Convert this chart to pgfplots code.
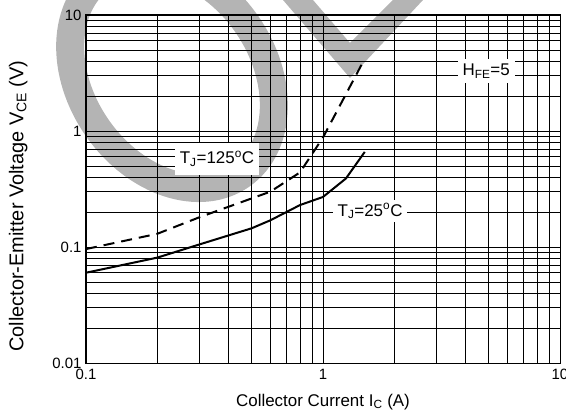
\documentclass[border=0pt]{standalone}
\usepackage{pgfplots}
\pgfplotsset{compat=1.18}
\usepackage{fontspec}
\setmainfont{Liberation Sans}
\definecolor{wm}{RGB}{180,180,180}
\begin{document}
\begin{tikzpicture}
\begin{scope}
\clip (-86bp,-51bp) rectangle (480bp,363bp);
\draw[wm, line width=28bp, rotate around={-55:(86bp,287bp)}] (86bp,287bp) ellipse (121bp and 91bp);
\fill[wm] (197bp,363bp) -- (264bp,285bp) -- (337bp,363bp) -- (307bp,363bp) -- (264bp,320bp) -- (227bp,363bp) -- cycle;
\end{scope}
\begin{axis}[
  at={(0,0)}, anchor=south west,
  scale only axis, width=474bp, height=348bp,
  xmode=log, ymode=log,
  xmin=0.1, xmax=10, ymin=0.01, ymax=10,
  xtick={0.1,1,10}, ytick={0.01,0.1,1,10},
  minor xtick={0.2,0.3,0.4,0.5,0.6,0.7,0.8,0.9,2,3,4,5,6,7,8,9},
  minor ytick={0.02,0.03,0.04,0.05,0.06,0.07,0.08,0.09,0.2,0.3,0.4,0.5,0.6,0.7,0.8,0.9,2,3,4,5,6,7,8,9},
  log ticks with fixed point,
  /pgf/number format/assume math mode=true,
  grid=both,
  major grid style={black, line width=0.8bp},
  minor grid style={black, line width=0.8bp},
  axis line style={black, line width=1bp},
  major tick length=0pt, minor tick length=0pt,
  tick label style={font=\fontsize{15}{15}\selectfont, black},
  xticklabel style={yshift=-3bp},
  yticklabel style={xshift=-1bp},
  xlabel={Collector Current I\textsubscript{C} (A)},
  ylabel={Collector-Emitter Voltage V\textsubscript{CE} (V)},
  xlabel style={font=\fontsize{17}{17}\selectfont, at={(axis description cs:0.5,-0.112)}, anchor=center},
  ylabel style={font=\fontsize{20}{20}\selectfont, at={(axis description cs:-0.143,0.451)}, anchor=center, rotate=0},
]
\addplot[black, line width=2bp, dash pattern=on 11bp off 7bp] coordinates {
  (0.1,0.096) (0.2,0.13) (0.3,0.18) (0.6,0.30) (0.8,0.44) (1.0,0.88) (1.5,4.2)
};
\addplot[black, line width=2bp] coordinates {
  (0.1,0.06) (0.2,0.081) (0.3,0.105) (0.5,0.145) (0.6,0.17) (0.8,0.23) (1.0,0.27) (1.25,0.39) (1.5,0.66)
};
\node[fill=white, inner xsep=5bp, inner ysep=8bp, font=\fontsize{17}{17}\selectfont] at (axis cs:0.357,0.574) {T\textsubscript{J}=125\textsuperscript{o}C};
\node[fill=white, inner xsep=5bp, inner ysep=3bp, font=\fontsize{17}{17}\selectfont] at (axis cs:1.58,0.204) {T\textsubscript{J}=25\textsuperscript{o}C};
\node[fill=white, inner xsep=5bp, inner ysep=5bp, font=\fontsize{17}{17}\selectfont] at (axis cs:4.88,3.29) {H\textsubscript{FE}=5};
\end{axis}
\pgfresetboundingbox
\path[use as bounding box] (-86bp,-51bp) rectangle (480bp,363bp);
\end{tikzpicture}
\end{document}
